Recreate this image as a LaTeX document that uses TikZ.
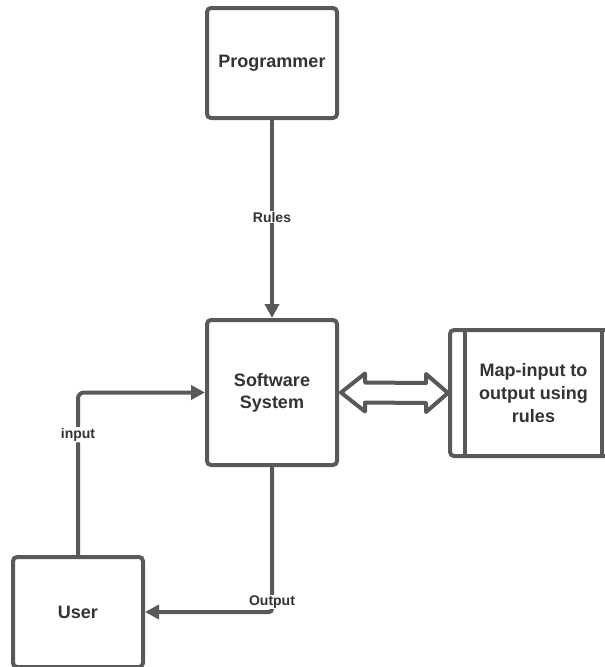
\documentclass[tikz,border=0pt]{standalone}
\usepackage{fontspec}
\setmainfont{Liberation Sans}
\usetikzlibrary{arrows.meta,calc}
\definecolor{lineg}{HTML}{595959}
\definecolor{textg}{HTML}{333333}
\tikzset{
  box/.style={draw=lineg, line width=4pt, rounded corners=4pt, fill=white,
    minimum width=130pt, align=center, text=textg,
    font=\bfseries\fontsize{18}{22}\selectfont},
  conn/.style={draw=lineg, line width=4pt, -{Triangle[length=14pt,width=14pt]}},
  lbl/.style={fill=white, text=textg, inner sep=1pt,
    font=\bfseries\fontsize{14}{16}\selectfont}
}
\begin{document}
\begin{tikzpicture}[x=1pt,y=-1pt]
\useasboundingbox (0,0) rectangle (605,667);
\node[box, minimum height=110pt] (prog) at (272,63) {Programmer};
\node[box, minimum height=145pt] (sw) at (272,392.5) {Software\\System};
\node[box, minimum height=110pt] (user) at (78,612) {User};
\node[box, minimum width=167pt, minimum height=126pt, text width=130pt] (map) at (533.5,393) {};
\node[text=textg, align=center, font=\bfseries\fontsize{18}{23}\selectfont] (maptext) at (533.5,393) {Map-input to\\output using\\rules};
\draw[draw=lineg, line width=4pt] ($(map.north west)+(17,0)$) -- ($(map.south west)+(17,0)$);
\draw[draw=lineg, line width=4pt] ($(map.north east)+(-17,0)$) -- ($(map.south east)+(-17,0)$);
% connectors
\draw[conn] (prog.south) -- (sw.north) node[lbl, pos=0.49] {Rules};
\draw[conn, rounded corners=6pt] (user.north) |- (sw.west) node[lbl, pos=0.37] {input};
\draw[conn, rounded corners=3pt] (sw.south) |- (user.east);
\node[lbl] (outlbl) at ($(sw.south |- user.east)+(0,-10)$) {Output};
% hollow double arrow
\coordinate (L) at ($(sw.east)+(2,0)$);
\coordinate (R) at (map.west);
\draw[draw=lineg, line width=4pt, line join=round, fill=white]
  (L) -- ($(L)+(24,-19)$) -- ($(L)+(24,-10)$) -- ($(R)+(-22,-10)$) -- ($(R)+(-22,-19)$)
  -- (R) -- ($(R)+(-22,19)$) -- ($(R)+(-22,10)$) -- ($(L)+(24,10)$) -- ($(L)+(24,19)$) -- cycle;
\end{tikzpicture}
\end{document}
